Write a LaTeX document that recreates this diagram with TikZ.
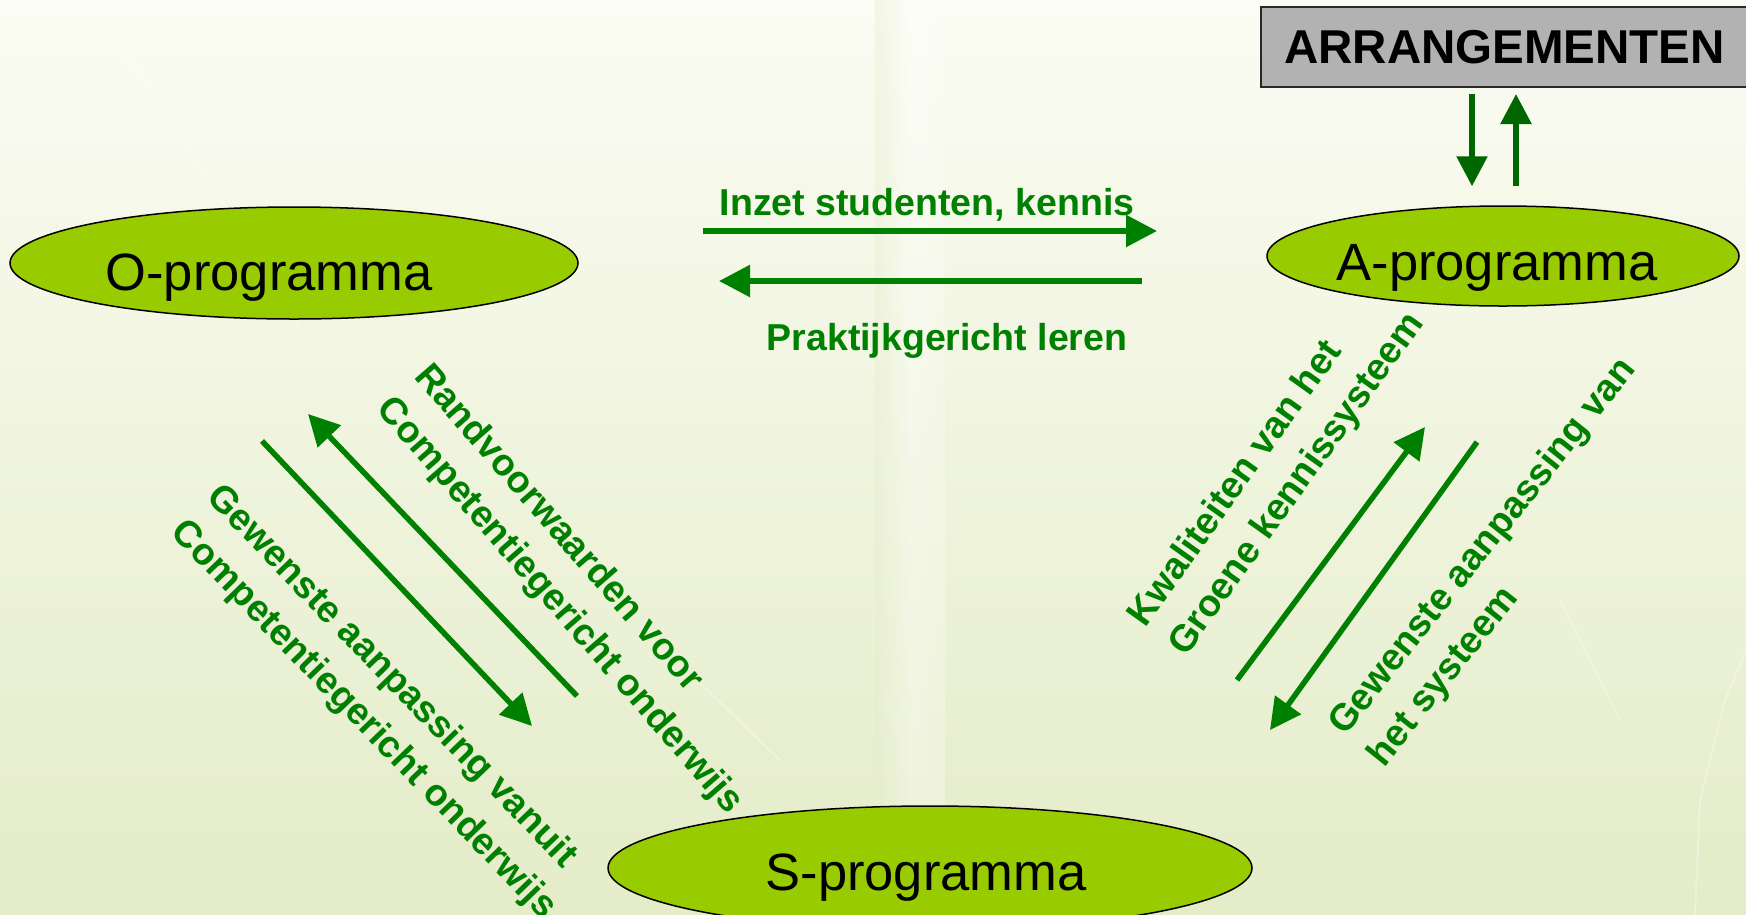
\documentclass[tikz,border=0pt]{standalone}
\usepackage{fontspec}
\setmainfont{Liberation Sans}
\usetikzlibrary{arrows.meta,shapes.geometric,calc}
\definecolor{lblgreen}{RGB}{0,128,0}
\definecolor{arrgreen}{RGB}{0,128,0}
\definecolor{darkarr}{RGB}{0,102,0}
\definecolor{ellfill}{RGB}{153,204,0}
\definecolor{boxgray}{RGB}{178,178,178}
\definecolor{boxline}{RGB}{40,40,40}
\definecolor{bgtop}{RGB}{251,252,243}
\definecolor{bgbot}{RGB}{228,236,200}
\newcommand\lblfont{\fontsize{37.5}{50}\selectfont\bfseries}
\tikzset{
  prog/.style={ellipse, draw=black, line width=1.5pt, fill=ellfill, inner sep=0pt},
  progtext/.style={font=\fontsize{52.5}{60}\selectfont, text=black, inner sep=0pt, anchor=base},
  boxst/.style={rectangle, draw=boxline, line width=2pt, fill=boxgray, inner sep=0pt,
    font=\fontsize{47.5}{55}\selectfont\bfseries, text=black},
  lbl/.style={font=\lblfont, text=lblgreen, inner sep=0pt},
  rlbl/.style={lbl, align=left},
  flow/.style={draw=arrgreen, line width=5.5pt, -{Triangle[length=31pt,width=31pt]}},
  darkflow/.style={draw=darkarr, line width=5.5pt, -{Triangle[length=30pt,width=30pt]}},
  vein/.style={draw=white, opacity=0.3, line width=2pt, line cap=round}
}
\begin{document}
\begin{tikzpicture}[x=1pt,y=-1pt]
\useasboundingbox (0,0) rectangle (1746,914);
\clip (0,0) rectangle (1746,914);
% background
\shade[top color=bgtop, bottom color=bgbot] (0,0) rectangle (1746,914);
\shade[left color=bgbot, right color=white, opacity=0.35] (875,0) rectangle (910,914);
\shade[left color=white, right color=bgtop, opacity=0.35] (910,0) rectangle (945,914);
\draw[vein] (90,0) -- (217,193) -- (300,330);
\draw[vein] (700,683) -- (780,760);
\draw[vein] (1746,650) -- (1725,700) -- (1700,800) -- (1695,914);
\draw[vein] (1560,600) -- (1620,720);

% nodes
\node[boxst, minimum width=487pt, minimum height=80pt] (arr) at (1504.5,47) {ARRANGEMENTEN};
\node[prog, minimum width=568pt, minimum height=112pt] (O) at (294,263) {};
\node[progtext] (Ot) at (269,290) {O-programma};
\node[prog, minimum width=472pt, minimum height=100pt] (A) at (1503,256) {};
\node[progtext] (At) at (1497,280) {A-programma};
\node[prog, minimum width=644pt, minimum height=124pt] (S) at (930,868) {};
\node[progtext] (St) at (926,890) {S-programma};

% labels
\node[lbl, anchor=base] (t1) at (927,215) {Inzet studenten, kennis};
\node[lbl, anchor=base] (t2) at (947,350) {Praktijkgericht leren};
\node[rlbl, rotate=-49] (L1) at (578,590) {Randvoorwaarden voor\\Competentiegericht onderwijs};
\node[rlbl, rotate=-46] (L2) at (381,703) {Gewenste aanpassing vanuit\\Competentiegericht onderwijs};
\node[rlbl, rotate=54.5] (R1) at (1277,470) {Kwaliteiten van het\\Groene kennissysteem};
\node[rlbl, rotate=51.5] (R2) at (1503,563) {Gewenste aanpassing van\\het systeem};

% arrow end points
\coordinate (h1s) at (703,231);
\coordinate (h1e) at (1157,231);
\coordinate (h2s) at (1142,281);
\coordinate (h2e) at (719,281);
\coordinate (d1s) at (577,696);
\coordinate (d1e) at (308,414);
\coordinate (d2s) at (262,441);
\coordinate (d2e) at (532,726);
\coordinate (d3s) at (1237,680);
\coordinate (d3e) at (1425,427);
\coordinate (d4s) at (1477,442);
\coordinate (d4e) at (1270,730);

% arrows
\draw[darkflow] ($(arr.south)+(-32.5,6)$) -- ($(A.north)+(-31,-19)$);
\draw[darkflow] ($(A.north)+(13,-19)$) -- ($(arr.south)+(11.5,6)$);
\draw[flow] (h1s) -- (h1e);
\draw[flow] (h2s) -- (h2e);
\draw[flow] (d1s) -- (d1e);
\draw[flow] (d2s) -- (d2e);
\draw[flow] (d3s) -- (d3e);
\draw[flow] (d4s) -- (d4e);
\end{tikzpicture}
\end{document}
